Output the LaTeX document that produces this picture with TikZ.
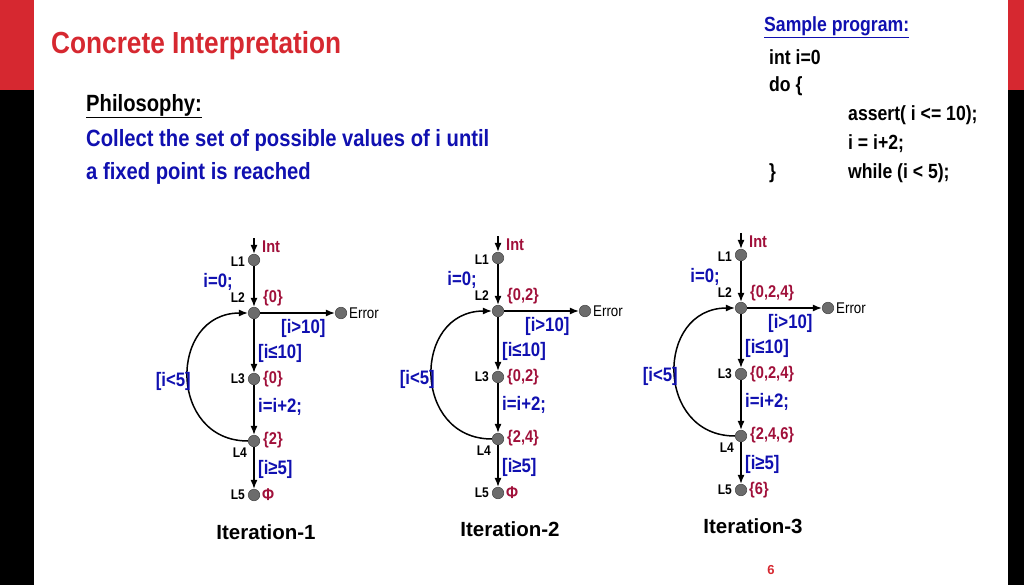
\documentclass[tikz,border=0pt]{standalone}
\usepackage{fontspec}
\setmainfont{Liberation Sans}[FakeStretch=0.86]
\newfontfamily\widefont{Liberation Sans}
\usetikzlibrary{arrows.meta}

\definecolor{titlered}{RGB}{214,40,48}
\definecolor{setred}{RGB}{160,16,58}
\definecolor{labblue}{RGB}{16,16,176}

\tikzset{
  loc/.style={circle, fill=gray!85!black, draw=black!70, line width=0.6pt, minimum size=11.5pt, inner sep=0pt},
  flow/.style={line width=1.5pt, -{Latex[length=9pt,width=7pt]}},
  lname/.style={font=\fontsize{14}{14}\selectfont\bfseries, inner sep=1pt},
  setlab/.style={font=\fontsize{17}{17}\selectfont\bfseries, text=setred, inner sep=1pt},
  cond/.style={font=\fontsize{19.5}{19.5}\selectfont\bfseries, text=labblue, inner sep=1pt},
  body/.style={font=\fontsize{23.5}{23.5}\selectfont\bfseries, anchor=west, inner sep=0pt},
  code/.style={font=\fontsize{20.5}{20.5}\selectfont\bfseries, anchor=west, inner sep=0pt},
  iter/.style={font=\widefont\fontsize{20.5}{20.5}\selectfont\bfseries}
}

% one control flow graph with its collected sets
\newcommand{\cfgraph}[7]{%
  \begin{scope}[shift={(#2,#3)}]
    \node[loc] (#1L1) at (0,0) {};
    \node[loc] (#1L2) at (0,53) {};
    \node[loc] (#1L3) at (0,119) {};
    \node[loc] (#1L4) at (0,181) {};
    \node[loc] (#1L5) at (0,235) {};
    \node[loc] (#1err) at (87,53) {};
    \coordinate (#1in) at (0,-22);
    \draw[flow] (#1in) -- (#1L1);
    \draw[flow] (#1L1) -- (#1L2);
    \draw[flow] (#1L2) -- (#1L3);
    \draw[flow] (#1L3) -- (#1L4);
    \draw[flow] (#1L4) -- (#1L5);
    \draw[flow] (#1L2) -- (#1err);
    \draw[flow] (#1L4) .. controls +(-86,0) and +(-86,0) .. (#1L2);
    % location names
    \node[lname, anchor=east] (#1n1) at (-8,2) {L1};
    \node[lname, anchor=east] (#1n2) at (-8,38) {L2};
    \node[lname, anchor=east] (#1n3) at (-8,119) {L3};
    \node[lname, anchor=east] (#1n4) at (-6,193) {L4};
    \node[lname, anchor=east] (#1n5) at (-8,235) {L5};
    \node[lname, anchor=west, font=\fontsize{15.5}{15.5}\selectfont] (#1nerr) at (94,53) {Error};
    % statements and guards
    \node[cond, anchor=east] (#1c1) at (-20,22) {i=0;};
    \node[cond, anchor=west] (#1c2) at (26,68) {[i>10]};
    \node[cond, anchor=west] (#1c3) at (3,93) {[i≤10]};
    \node[cond, anchor=east] (#1c4) at (-62,121) {[i<5]};
    \node[cond, anchor=west] (#1c5) at (3,147) {i=i+2;};
    \node[cond, anchor=west] (#1c6) at (3,209) {[i≥5]};
    % collected values
    \node[setlab, anchor=west] (#1s1) at (7,-13) {Int};
    \node[setlab, anchor=west] (#1s2) at (8,38) {#4};
    \node[setlab, anchor=west] (#1s3) at (8,119) {#5};
    \node[setlab, anchor=west] (#1s4) at (8,180) {#6};
    \node[setlab, anchor=west] (#1s5) at (7,235) {#7};
  \end{scope}
}

\begin{document}
\begin{tikzpicture}[x=1pt, y=-1pt]
  \useasboundingbox (0,0) rectangle (1024,585);

  % side bars
  \fill[titlered] (0,0) rectangle (34,90);
  \fill[black] (0,90) rectangle (34,585);
  \fill[titlered] (1008,0) rectangle (1024,90);
  \fill[black] (1008,90) rectangle (1024,585);

  % title and philosophy
  \node[body, text=titlered, font=\fontsize{30.5}{30.5}\selectfont\bfseries] (title) at (51,46) {Concrete Interpretation};
  \node[body] (phil) at (86,106) {\underline{Philosophy:}};
  \node[body, text=labblue] (goal1) at (86,140) {Collect the set of possible values of i until};
  \node[body, text=labblue] (goal2) at (86,173) {a fixed point is reached};

  % sample program
  \node[code, text=labblue] (prog) at (764,27) {\underline{Sample program:}};
  \node[code] (p1) at (769,57) {int i=0};
  \node[code] (p2) at (769,86) {do \{};
  \node[code] (p3) at (848,115) {assert( i <= 10);};
  \node[code] (p4) at (848,144) {i = i+2;};
  \node[code] (p5) at (769,173) {\}};
  \node[code] (p6) at (848,173) {while (i < 5);};

  % the three iterations
  \cfgraph{a}{254}{260}{\{0\}}{\{0\}}{\{2\}}{Φ}
  \cfgraph{b}{498}{258}{\{0,2\}}{\{0,2\}}{\{2,4\}}{Φ}
  \cfgraph{c}{741}{255}{\{0,2,4\}}{\{0,2,4\}}{\{2,4,6\}}{\{6\}}

  \node[iter] (it1) at (266,532) {Iteration-1};
  \node[iter] (it2) at (510,529) {Iteration-2};
  \node[iter] (it3) at (753,526) {Iteration-3};

  \node[text=titlered, font=\widefont\fontsize{13}{13}\selectfont\bfseries] (page) at (771,570) {6};
\end{tikzpicture}
\end{document}
